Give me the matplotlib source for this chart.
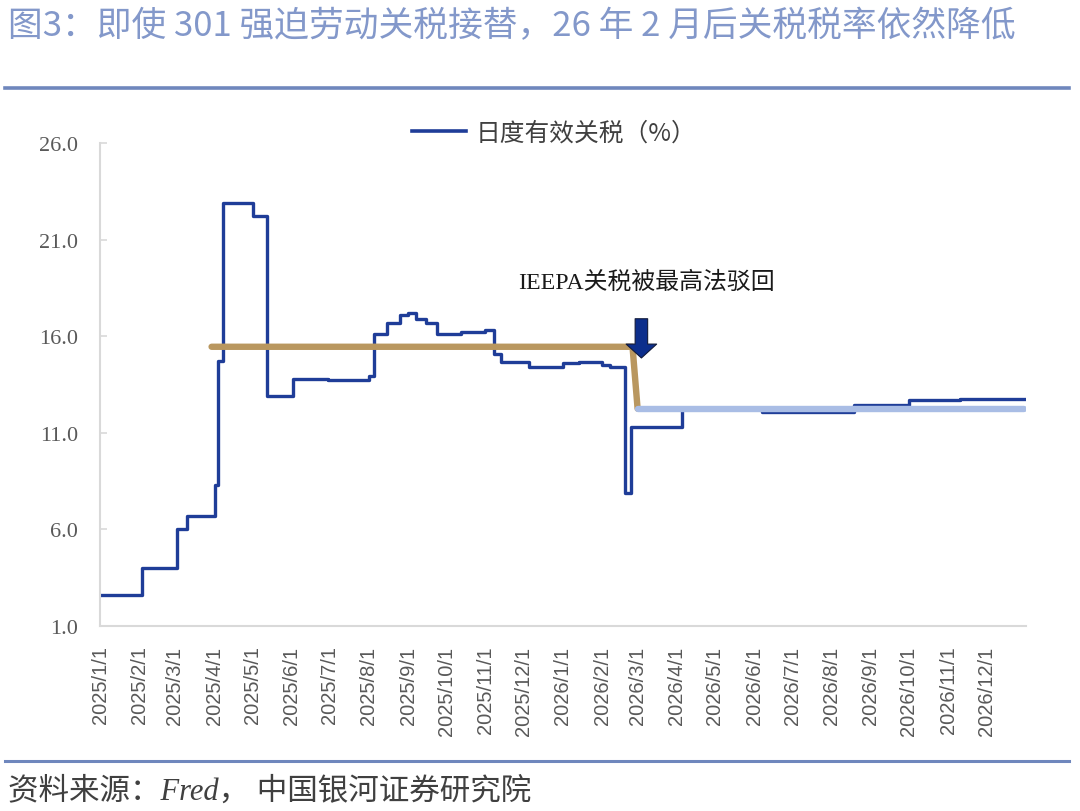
import pandas as pd
import matplotlib.pyplot as plt
from matplotlib.lines import Line2D

# Données (taux de droits de douane effectif, %)
tariff_dates = ["2025-01-01", "2025-02-03", "2025-03-03", "2025-03-11", "2025-04-02",
                "2025-04-04", "2025-04-08", "2025-05-02", "2025-05-13", "2025-06-02",
                "2025-06-30", "2025-08-01", "2025-08-05", "2025-08-15", "2025-08-26",
                "2025-09-01", "2025-09-07", "2025-09-15", "2025-09-24", "2025-10-13",
                "2025-11-01", "2025-11-08", "2025-11-13", "2025-12-05", "2026-01-01",
                "2026-01-14", "2026-02-01", "2026-02-07", "2026-02-19", "2026-02-24",
                "2026-04-05", "2026-06-07", "2026-07-22", "2026-08-19", "2026-10-01",
                "2026-11-10", "2026-12-31"]
tariff_values = [2.6, 4.0, 6.0, 6.7, 8.3,
                 14.7, 22.9, 22.2, 12.9, 13.8,
                 13.75, 13.95, 16.1, 16.7, 17.1,
                 17.2, 16.9, 16.7, 16.1, 16.2,
                 16.3, 15.1, 14.65, 14.4, 14.6,
                 14.65, 14.5, 14.4, 7.9, 11.3,
                 12.25, 12.05, 12.08, 12.45, 12.7,
                 12.77, 12.77]

avg_before_dates = ["2025-03-30", "2026-02-25", "2026-03-01"]
avg_before_values = [15.45, 15.45, 12.25]
avg_after_dates = ["2026-03-01", "2026-12-31"]
avg_after_values = [12.25, 12.25]

month_ticks = pd.date_range("2025-01-01", "2026-12-01", freq="MS")
tick_labels = [f"{d.year}/{d.month}/1" for d in month_ticks]
y_ticks = [1.0, 6.0, 11.0, 16.0, 21.0, 26.0]

title = "图3：即使 301 强迫劳动关税接替，26 年 2 月后关税税率依然降低"
legend_label = "日度有效关税（%）"
note = "IEEPA关税被最高法驳回"
source = "资料来源：Fred， 中国银河证券研究院"

cjk = ["Noto Sans CJK SC", "DejaVu Sans"]
serif_cjk = ["Liberation Serif", "Noto Sans CJK SC"]
plt.rcParams["font.family"] = cjk

fig = plt.figure(figsize=(10.8, 8.12), dpi=100)
ax = fig.add_axes([0.0926, 0.2278, 0.857, 0.595])

x = pd.to_datetime(tariff_dates)
ax.plot(x, tariff_values, drawstyle="steps-post", color="#1f3d98", lw=2.4, zorder=2)
ax.plot(pd.to_datetime(avg_before_dates), avg_before_values, color="#b9975f", lw=4.6,
        solid_capstyle="round", solid_joinstyle="round", zorder=3)
ax.plot(pd.to_datetime(avg_after_dates), avg_after_values, color="#a9bde5", lw=4.6,
        solid_capstyle="round", zorder=4)

# flèche et annotation
arrow_x = pd.Timestamp("2026-03-04")
ax.annotate("", xy=(arrow_x, 14.87), xytext=(arrow_x, 16.9),
            arrowprops=dict(arrowstyle="simple,head_length=0.5,head_width=1.1,tail_width=0.45",
                            mutation_scale=20, fc="#0c2e8c", ec="#111a3a", lw=0.8,
                            shrinkA=0, shrinkB=0), zorder=5)
ax.text(pd.Timestamp("2026-03-08"), 18.8, note, ha="center", va="center",
        fontsize=17.2, color="#1a1a1a", family=serif_cjk)

ax.set_xlim(pd.Timestamp("2025-01-01"), pd.Timestamp("2027-01-01"))
ax.set_ylim(1, 26)
ax.set_yticks(y_ticks)
ax.set_yticklabels([f"{v:.1f}" for v in y_ticks], family="Liberation Serif",
                   fontsize=16, color="#595959")
ax.set_xticks(month_ticks)
ax.set_xticklabels(tick_labels, rotation=90, family="Liberation Sans",
                   fontsize=14.5, color="#595959")
ax.tick_params(axis="x", length=0, pad=14)
ax.tick_params(axis="y", direction="in", length=5, width=1.2, color="#d9d9d9", pad=16)

for side in ["top", "right"]:
    ax.spines[side].set_visible(False)
for side in ["left", "bottom"]:
    ax.spines[side].set_color("#d9d9d9")
    ax.spines[side].set_linewidth(1.5)

handle = Line2D([], [], color="#1f3d98", lw=2.6)
ax.legend([handle], [legend_label], loc="center", bbox_to_anchor=(0.513, 0.836),
          bbox_transform=fig.transFigure, frameon=False, fontsize=17.8,
          handlelength=2.2, handletextpad=0.4, labelcolor="#404040")

# titre, filets et source
fig.text(0.007, 0.967, title, fontsize=25, color="#8398ca", va="center", ha="left",
         weight="light")
fig.add_artist(Line2D([0.005, 0.99], [0.890, 0.890], color="#6f87bd", lw=2.6))
fig.add_artist(Line2D([0.005, 0.99], [0.0616, 0.0616], color="#6f87bd", lw=2.2))
fig.text(0.007, 0.024, source, fontsize=22, color="#404040", va="center", ha="left",
         style="italic", family=serif_cjk)

fig.savefig("out.png", dpi=100)
